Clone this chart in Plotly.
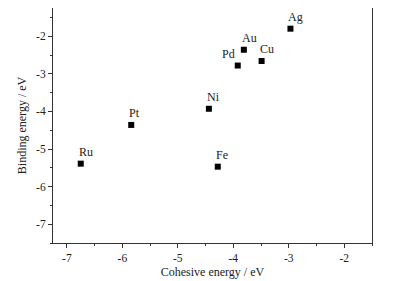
import plotly.graph_objects as go

metals = ["Ru", "Pt", "Ni", "Fe", "Pd", "Au", "Cu", "Ag"]
cohesive = [-6.75, -5.84, -4.44, -4.28, -3.92, -3.81, -3.49, -2.97]
binding = [-5.39, -4.36, -3.93, -5.47, -2.78, -2.36, -2.66, -1.80]
x_ticks = [-7, -6, -5, -4, -3, -2]
y_ticks = [-7, -6, -5, -4, -3, -2]

font = "Liberation Serif, Times New Roman, serif"

fig = go.Figure()
fig.add_trace(go.Scatter(
    x=cohesive, y=binding, mode="markers",
    marker=dict(symbol="square", size=6, color="black"),
    showlegend=False,
))
for m, xv, yv in zip(metals, cohesive, binding):
    if m == "Pd":
        anchor, xs = "right", -1
    else:
        anchor, xs = "left", -4
    fig.add_annotation(x=xv, y=yv, text=m, showarrow=False,
                       xanchor=anchor, yanchor="bottom", xshift=xs, yshift=3,
                       font=dict(family=font, size=12, color="#222"))

axis_common = dict(
    showline=True, linecolor="#333", linewidth=1, mirror=True,
    ticks="outside", ticklen=4, tickwidth=1, tickcolor="#333",
    showgrid=False, zeroline=False,
    tickfont=dict(family=font, size=11.5, color="#222"),
    minor=dict(ticks="outside", ticklen=2, tickcolor="#333", dtick=0.5, showgrid=False),
)

fig.update_xaxes(range=[-7.25, -1.5], tickvals=x_ticks, ticktext=[str(v) for v in x_ticks],
                 title=dict(text="Cohesive energy / eV", font=dict(family=font, size=12, color="#222"), standoff=4),
                 **axis_common)
fig.update_yaxes(range=[-7.5, -1.25], tickvals=y_ticks, ticktext=[str(v) for v in y_ticks],
                 title=dict(text="Binding energy / eV", font=dict(family=font, size=12, color="#222"), standoff=6),
                 **axis_common)

fig.update_layout(
    width=385, height=273,
    margin=dict(l=45, r=21, t=0, b=38),
    paper_bgcolor="white", plot_bgcolor="white",
)
fig.write_html("out.html")
